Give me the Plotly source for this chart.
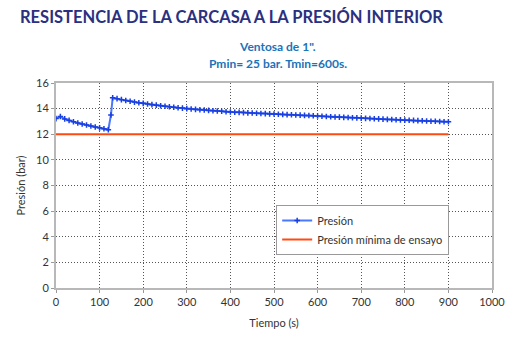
import plotly.graph_objects as go

tiempo = [0, 10, 20, 30, 40, 50, 60, 70, 80, 90, 100, 110, 120, 126, 130,
          140, 150, 160, 170, 180, 190, 200, 210, 220, 230, 240, 250, 260, 270, 280, 290,
          300, 310, 320, 330, 340, 350, 360, 370, 380, 390, 400, 410, 420, 430, 440,
          450, 460, 470, 480, 490, 500, 510, 520, 530, 540, 550, 560, 570, 580, 590,
          600, 610, 620, 630, 640, 650, 660, 670, 680, 690, 700, 710, 720, 730, 740,
          750, 760, 770, 780, 790, 800, 810, 820, 830, 840, 850, 860, 870, 880, 890, 900]
presion = [13.22, 13.38, 13.2, 13.08, 12.97, 12.88, 12.8, 12.72, 12.64, 12.57, 12.5, 12.43, 12.35, 13.5, 14.85,
           14.78, 14.7, 14.63, 14.57, 14.51, 14.46, 14.41, 14.36, 14.31, 14.27, 14.23, 14.19, 14.15, 14.11, 14.07, 14.04,
           14.0, 13.97, 13.94, 13.91, 13.89, 13.86, 13.84, 13.81, 13.79, 13.76, 13.74, 13.72, 13.71, 13.69, 13.67,
           13.66, 13.64, 13.62, 13.61, 13.59, 13.58, 13.56, 13.55, 13.53, 13.52, 13.5, 13.49, 13.47, 13.46, 13.44,
           13.43, 13.41, 13.39, 13.37, 13.35, 13.34, 13.32, 13.31, 13.29, 13.28, 13.26, 13.24, 13.23, 13.21, 13.2,
           13.18, 13.16, 13.15, 13.13, 13.12, 13.1, 13.09, 13.08, 13.06, 13.05, 13.04, 13.02, 13.01, 13.0, 12.98, 12.97]
tiempo_min = [0, 900]
presion_min = [12, 12]

titulo = "RESISTENCIA DE LA CARCASA A LA PRESIÓN INTERIOR"
subtitulo1 = "Ventosa de 1\"."
subtitulo2 = "Pmin= 25 bar. Tmin=600s."

FONT = "Lato"

fig = go.Figure()
fig.add_trace(go.Scatter(
    x=tiempo, y=presion, name="Presión", mode="lines+markers",
    line=dict(color="#4a78ff", width=2),
    marker=dict(symbol="cross-thin", size=4, color="#1a3fe0",
                line=dict(color="#1a3fe0", width=1.5)),
))
fig.add_trace(go.Scatter(
    x=tiempo_min, y=presion_min, name="Presión mínima de ensayo", mode="lines",
    line=dict(color="#ff4a12", width=2),
))

axis_common = dict(
    showline=True, mirror=True, linecolor="#b8b8b8", linewidth=2,
    showgrid=True, gridcolor="#555555", gridwidth=1, griddash="1px,2px",
    zeroline=False, ticks="outside", ticklen=3, tickcolor="#999999",
    tickfont=dict(family=FONT, size=11, color="#333333"),
)

fig.update_layout(
    width=520, height=340,
    margin=dict(l=56, r=28, t=83, b=52),
    paper_bgcolor="white", plot_bgcolor="white",
    font=dict(family=FONT, size=11, color="#333333"),
    showlegend=True,
    legend=dict(x=0.505, y=0.405, xanchor="left", yanchor="top",
                bordercolor="#999999", borderwidth=1, bgcolor="white",
                font=dict(family=FONT, size=11, color="#333333"),
                tracegroupgap=4, itemwidth=30),
    xaxis=dict(range=[0, 1000], dtick=100,
               title=dict(text="Tiempo (s)", font=dict(family=FONT, size=11, color="#333333"), standoff=12),
               **axis_common),
    yaxis=dict(range=[0, 16], dtick=2,
               title=dict(text="Presión (bar)", font=dict(family=FONT, size=11, color="#333333"), standoff=8),
               **axis_common),
    annotations=[
        dict(text="<b>" + titulo + "</b>", xref="paper", yref="paper", x=-0.087, y=1.324,
             xanchor="left", yanchor="middle", showarrow=False,
             font=dict(family=FONT, size=16.5, color="#2b3080")),
        dict(text="<b>" + subtitulo1 + "</b>", xref="paper", yref="paper", x=0.509, y=1.178,
             xanchor="center", yanchor="middle", showarrow=False,
             font=dict(family=FONT, size=12, color="#1b73b8")),
        dict(text="<b>" + subtitulo2 + "</b>", xref="paper", yref="paper", x=0.509, y=1.094,
             xanchor="center", yanchor="middle", showarrow=False,
             font=dict(family=FONT, size=12, color="#1b73b8")),
    ],
)

fig.write_html("out.html")
